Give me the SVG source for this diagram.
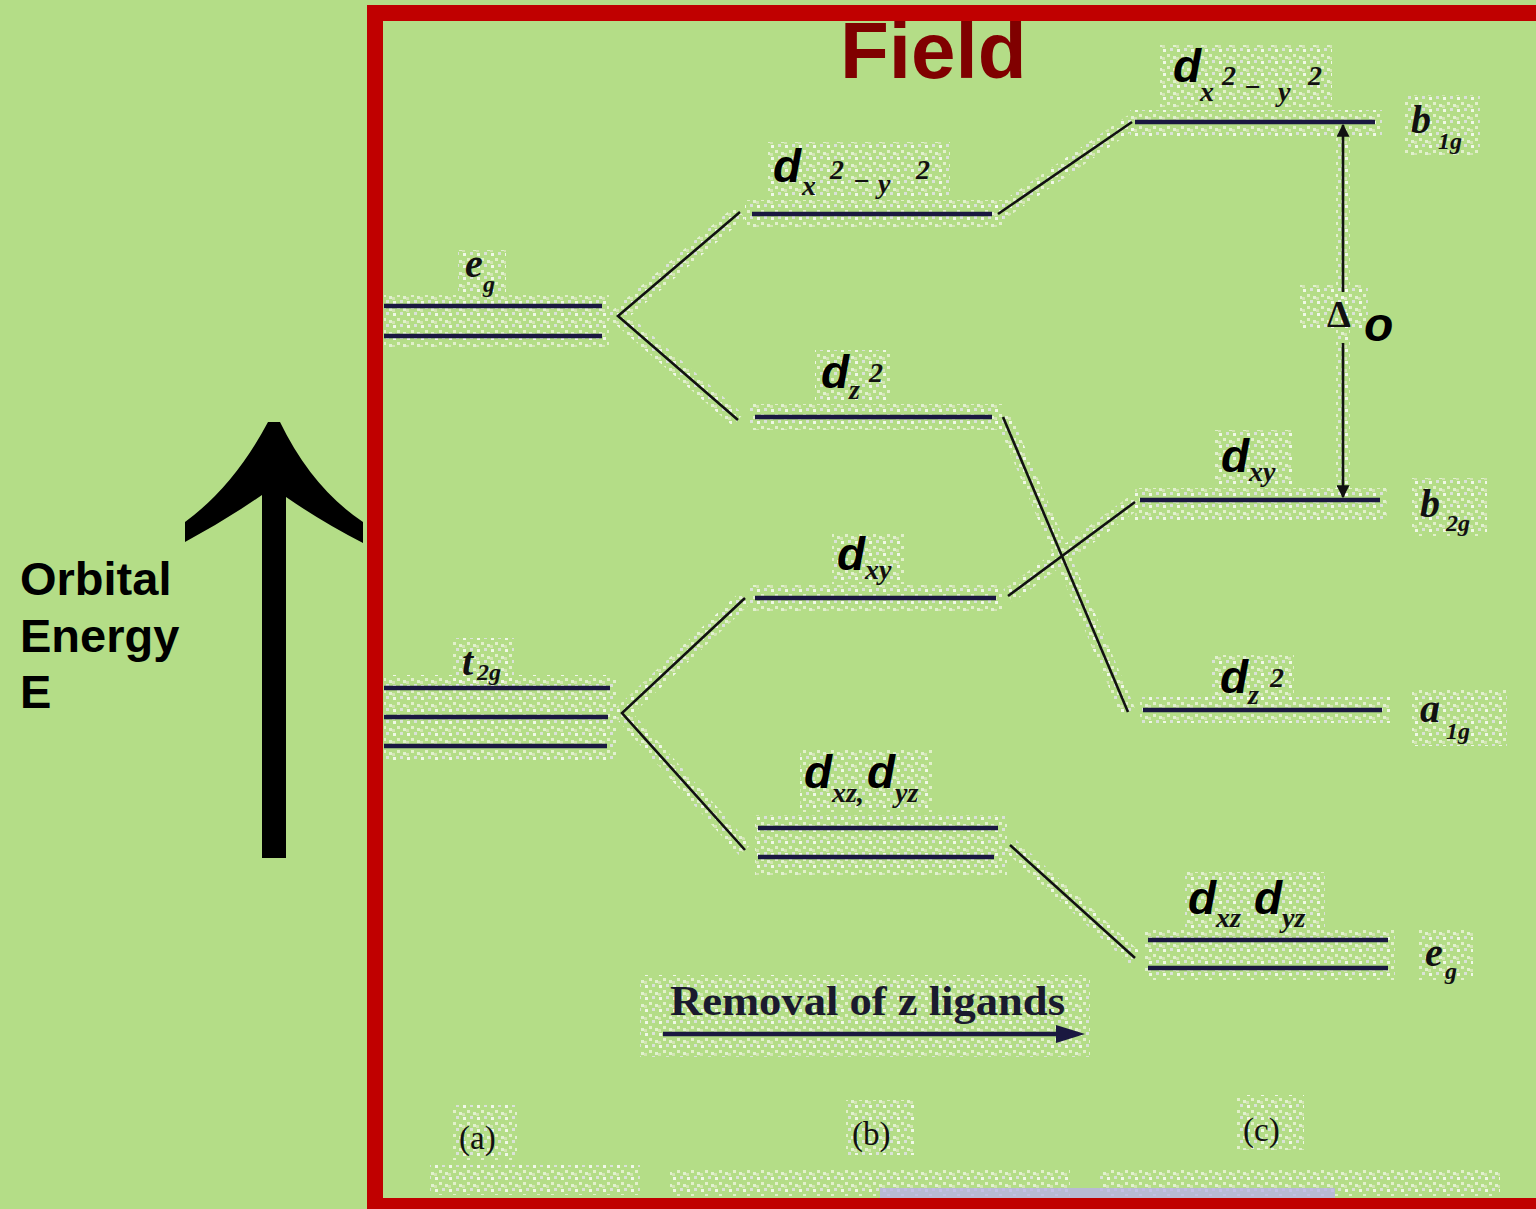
<svg xmlns="http://www.w3.org/2000/svg" width="1536" height="1209" viewBox="0 0 1536 1209">
<defs>
<pattern id="speck" width="14" height="12" patternUnits="userSpaceOnUse">
<rect x="1" y="1" width="3" height="3" fill="#ffffff" opacity=".8"/>
<rect x="8" y="0" width="3" height="3" fill="#e6e4f2" opacity=".75"/>
<rect x="5" y="6" width="3" height="3" fill="#fafaf0" opacity=".65"/>
<rect x="11" y="8" width="3" height="3" fill="#ffffff" opacity=".6"/>
<rect x="0" y="9" width="3" height="3" fill="#ecebd8" opacity=".55"/>
</pattern>
<marker id="ah" viewBox="0 0 10 10" refX="9" refY="5" markerWidth="5" markerHeight="5" orient="auto-start-reverse" markerUnits="strokeWidth">
<path d="M0,0 L10,5 L0,10 Z" fill="#111"/>
</marker>
</defs>
<style>
.lvl{stroke:#1a1840;stroke-width:4.5;fill:none}
.con{stroke:#111;stroke-width:2.6;fill:none}
.halo rect{fill:url(#speck)}
.hcon{stroke:url(#speck);stroke-width:16;fill:none}
.dl{font-family:"Liberation Sans",Arial,sans-serif;font-weight:bold;font-style:italic;font-size:46px;fill:#000}
.ss{font-family:"Liberation Serif","Times New Roman",serif;font-weight:bold;font-style:italic;font-size:28px;fill:#111}
.sym{font-family:"Liberation Serif","Times New Roman",serif;font-style:italic;font-weight:bold;font-size:40px;fill:#111}
.symsub{font-family:"Liberation Serif","Times New Roman",serif;font-style:italic;font-weight:bold;font-size:24px;fill:#111}
.cap{font-family:"Liberation Serif","Times New Roman",serif;font-size:33px;fill:#111}
.ax{font-family:"Liberation Sans",Arial,sans-serif;font-weight:bold;font-size:47px;fill:#000}
</style>
<rect x="0" y="0" width="1536" height="1209" fill="#b4dd87"/>

<g id="speckles" class="halo">
<rect x="384" y="295" width="225" height="52"/>
<rect x="458" y="250" width="48" height="45"/>
<rect x="384" y="675" width="232" height="85"/>
<rect x="452" y="638" width="62" height="48"/>
<rect x="745" y="200" width="258" height="27"/>
<rect x="768" y="142" width="182" height="56"/>
<rect x="750" y="404" width="252" height="26"/>
<rect x="815" y="350" width="75" height="52"/>
<rect x="750" y="585" width="252" height="26"/>
<rect x="832" y="532" width="72" height="52"/>
<rect x="755" y="815" width="252" height="60"/>
<rect x="800" y="750" width="132" height="62"/>
<rect x="1130" y="110" width="252" height="26"/>
<rect x="1160" y="45" width="172" height="62"/>
<rect x="1405" y="95" width="75" height="60"/>
<rect x="1135" y="488" width="252" height="32"/>
<rect x="1215" y="430" width="78" height="55"/>
<rect x="1412" y="478" width="75" height="58"/>
<rect x="1140" y="697" width="250" height="26"/>
<rect x="1212" y="655" width="82" height="45"/>
<rect x="1412" y="688" width="95" height="58"/>
<rect x="1145" y="928" width="250" height="52"/>
<rect x="1185" y="872" width="140" height="58"/>
<rect x="1418" y="930" width="55" height="50"/>
<rect x="1300" y="285" width="68" height="45"/>
<rect x="1336" y="122" width="14" height="378"/>
<rect x="640" y="975" width="450" height="82"/>
<rect x="452" y="1105" width="65" height="55"/>
<rect x="846" y="1100" width="68" height="55"/>
<rect x="1236" y="1095" width="68" height="55"/>
<rect x="430" y="1165" width="210" height="30"/>
<rect x="670" y="1168" width="400" height="28"/>
<rect x="1100" y="1170" width="400" height="26"/>
<path class="hcon" d="M740,212 L618,316 L738,420 M745,598 L622,713 L745,850 M998,214 L1132,122 M1003,416 L1128,712 M1008,596 L1135,502 M1010,845 L1135,958"/>
</g>
<rect x="880" y="1188" width="455" height="10" fill="#b9b2e6" opacity=".8"/>

<text x="840" y="78" font-family="Liberation Sans, Arial, sans-serif" font-weight="bold" font-size="80" fill="#800000">Field</text>
<rect x="375" y="13" width="1180" height="1193" fill="none" stroke="#c00000" stroke-width="16"/>

<g id="energy-axis">
<path d="M268,422 L280,422 Q312,488 363,522 L363,543 Q322,522 286,497 L286,858 L262,858 L262,495 Q226,520 185,542 L185,522 Q234,486 268,422 Z" fill="#000"/>
<text class="ax" x="20" y="595">Orbital</text>
<text class="ax" x="20" y="652">Energy</text>
<text class="ax" x="20" y="708">E</text>
</g>

<g id="a-eg">
<line class="lvl" x1="384" y1="306" x2="602" y2="306"/>
<line class="lvl" x1="384" y1="336" x2="602" y2="336"/>
<text><tspan class="sym" x="465" y="277">e</tspan><tspan class="symsub" x="483" y="292">g</tspan></text>
</g>
<g id="a-t2g">
<line class="lvl" x1="384" y1="688" x2="610" y2="688"/>
<line class="lvl" x1="384" y1="717" x2="608" y2="717"/>
<line class="lvl" x1="384" y1="746" x2="607" y2="746"/>
<text><tspan class="sym" x="462" y="675">t</tspan><tspan class="symsub" x="477" y="680">2g</tspan></text>
</g>

<g id="b-dx2y2">
<line class="lvl" x1="752" y1="214" x2="992" y2="214"/>
<text><tspan class="dl" x="773" y="182">d</tspan><tspan class="ss" x="802" y="195">x</tspan><tspan class="ss" x="830" y="179">2</tspan><tspan class="ss" x="853" y="190">−</tspan><tspan class="ss" x="878" y="193">y</tspan><tspan class="ss" x="916" y="179">2</tspan></text>
</g>
<g id="b-dz2">
<line class="lvl" x1="755" y1="417" x2="992" y2="417"/>
<text><tspan class="dl" x="821" y="388">d</tspan><tspan class="ss" x="849" y="399">z</tspan><tspan class="ss" x="869" y="382">2</tspan></text>
</g>
<g id="b-dxy">
<line class="lvl" x1="755" y1="598" x2="996" y2="598"/>
<text><tspan class="dl" x="837" y="570">d</tspan><tspan class="ss" x="865" y="579">xy</tspan></text>
</g>
<g id="b-dxzdyz">
<line class="lvl" x1="758" y1="828" x2="998" y2="828"/>
<line class="lvl" x1="758" y1="857" x2="994" y2="857"/>
<text><tspan class="dl" x="804" y="788">d</tspan><tspan class="ss" x="832" y="802">xz,</tspan><tspan class="dl" x="867" y="788">d</tspan><tspan class="ss" x="895" y="802">yz</tspan></text>
</g>

<g id="c-b1g">
<line class="lvl" x1="1135" y1="122" x2="1375" y2="122"/>
<text><tspan class="dl" x="1173" y="82">d</tspan><tspan class="ss" x="1200" y="101">x</tspan><tspan class="ss" x="1222" y="85">2</tspan><tspan class="ss" x="1244" y="96">−</tspan><tspan class="ss" x="1278" y="101">y</tspan><tspan class="ss" x="1308" y="85">2</tspan></text>
<text><tspan class="sym" x="1411" y="133">b</tspan><tspan class="symsub" x="1438" y="149">1g</tspan></text>
</g>
<g id="c-b2g">
<line class="lvl" x1="1140" y1="500" x2="1380" y2="500"/>
<text><tspan class="dl" x="1221" y="472">d</tspan><tspan class="ss" x="1249" y="481">xy</tspan></text>
<text><tspan class="sym" x="1420" y="517">b</tspan><tspan class="symsub" x="1446" y="531">2g</tspan></text>
</g>
<g id="c-a1g">
<line class="lvl" x1="1143" y1="710" x2="1382" y2="710"/>
<text><tspan class="dl" x="1220" y="693">d</tspan><tspan class="ss" x="1248" y="704">z</tspan><tspan class="ss" x="1270" y="687">2</tspan></text>
<text><tspan class="sym" x="1420" y="722">a</tspan><tspan class="symsub" x="1446" y="739">1g</tspan></text>
</g>
<g id="c-eg">
<line class="lvl" x1="1148" y1="940" x2="1388" y2="940"/>
<line class="lvl" x1="1148" y1="968" x2="1388" y2="968"/>
<text><tspan class="dl" x="1188" y="914">d</tspan><tspan class="ss" x="1216" y="927">xz</tspan><tspan class="dl" x="1254" y="914">d</tspan><tspan class="ss" x="1282" y="927">yz</tspan></text>
<text><tspan class="sym" x="1425" y="966">e</tspan><tspan class="symsub" x="1445" y="979">g</tspan></text>
</g>

<g id="connectors">
<polyline class="con" points="740,212 618,316 738,420"/>
<polyline class="con" points="745,598 622,713 745,850"/>
<line class="con" x1="998" y1="214" x2="1132" y2="122"/>
<line class="con" x1="1003" y1="417" x2="1128" y2="712"/>
<line class="con" x1="1008" y1="596" x2="1135" y2="502"/>
<line class="con" x1="1010" y1="845" x2="1135" y2="958"/>
</g>

<g id="delta-o">
<line x1="1343" y1="292" x2="1343" y2="125" stroke="#111" stroke-width="2.6" marker-end="url(#ah)"/>
<line x1="1343" y1="343" x2="1343" y2="497" stroke="#111" stroke-width="2.6" marker-end="url(#ah)"/>
<text x="1327" y="327" font-family="Liberation Serif, Times New Roman, serif" font-weight="bold" font-size="38" fill="#111">Δ</text>
<text x="1364" y="341" font-family="Liberation Sans, Arial, sans-serif" font-weight="bold" font-style="italic" font-size="48" fill="#000">o</text>
</g>

<g id="removal">
<text x="670" y="1015" font-family="Liberation Serif, Times New Roman, serif" font-weight="bold" font-size="42" fill="#1a1a2e" textLength="395" lengthAdjust="spacingAndGlyphs">Removal of z ligands</text>
<line x1="663" y1="1034" x2="1062" y2="1034" stroke="#1a1840" stroke-width="4.5"/>
<polygon points="1056,1025 1085,1034 1056,1043" fill="#1a1840"/>
</g>

<g id="panel-labels">
<text class="cap" x="459" y="1149">(a)</text>
<text class="cap" x="852" y="1145">(b)</text>
<text class="cap" x="1243" y="1141">(c)</text>
</g>
</svg>
